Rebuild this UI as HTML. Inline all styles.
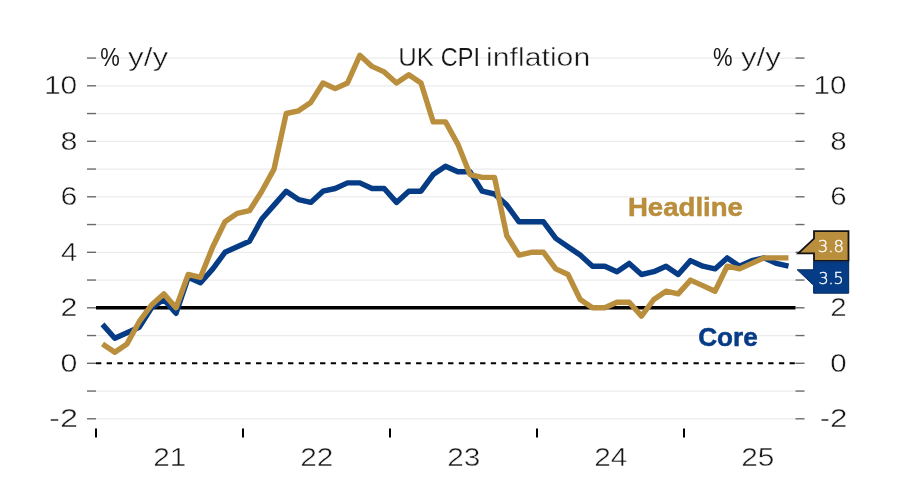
<!DOCTYPE html>
<html lang="en"><head><meta charset="utf-8"><title>UK CPI inflation</title>
<style>
html,body{margin:0;padding:0;background:#fff;}
body{width:900px;height:504px;overflow:hidden;}
svg{display:block;}
text{font-family:"Liberation Sans",Arial,sans-serif;}
.ax{font-size:25px;fill:#161616;stroke:#fff;stroke-width:0.45px;}
.b{font-weight:bold;font-size:25px;stroke-width:0.5px;}
.v{font-family:"DejaVu Sans Light","DejaVu Sans","Liberation Sans",sans-serif;font-weight:200;font-size:15px;fill:#fff;stroke:#fff;stroke-width:0.35px;}
</style></head><body>
<svg width="900" height="504" viewBox="0 0 900 504">
<rect width="900" height="504" fill="#fff"/>
<g stroke="#ebebeb" stroke-width="1.3">
<line x1="96" x2="795.5" y1="418.80" y2="418.80"/>
<line x1="96" x2="795.5" y1="391.05" y2="391.05"/>
<line x1="96" x2="795.5" y1="335.55" y2="335.55"/>
<line x1="96" x2="795.5" y1="280.05" y2="280.05"/>
<line x1="96" x2="795.5" y1="252.30" y2="252.30"/>
<line x1="96" x2="795.5" y1="224.55" y2="224.55"/>
<line x1="96" x2="795.5" y1="196.80" y2="196.80"/>
<line x1="96" x2="795.5" y1="169.05" y2="169.05"/>
<line x1="96" x2="795.5" y1="141.30" y2="141.30"/>
<line x1="96" x2="795.5" y1="113.55" y2="113.55"/>
<line x1="96" x2="795.5" y1="85.80" y2="85.80"/>
<line x1="96" x2="795.5" y1="58.05" y2="58.05"/>
</g>
<g stroke="#6a6a6a" stroke-width="1.4">
<line x1="87" x2="96" y1="418.80" y2="418.80"/>
<line x1="795.5" x2="804.5" y1="418.80" y2="418.80"/>
<line x1="87" x2="96" y1="391.05" y2="391.05"/>
<line x1="795.5" x2="804.5" y1="391.05" y2="391.05"/>
<line x1="87" x2="96" y1="363.30" y2="363.30"/>
<line x1="795.5" x2="804.5" y1="363.30" y2="363.30"/>
<line x1="87" x2="96" y1="335.55" y2="335.55"/>
<line x1="795.5" x2="804.5" y1="335.55" y2="335.55"/>
<line x1="87" x2="96" y1="307.80" y2="307.80"/>
<line x1="795.5" x2="804.5" y1="307.80" y2="307.80"/>
<line x1="87" x2="96" y1="280.05" y2="280.05"/>
<line x1="795.5" x2="804.5" y1="280.05" y2="280.05"/>
<line x1="87" x2="96" y1="252.30" y2="252.30"/>
<line x1="795.5" x2="804.5" y1="252.30" y2="252.30"/>
<line x1="87" x2="96" y1="224.55" y2="224.55"/>
<line x1="795.5" x2="804.5" y1="224.55" y2="224.55"/>
<line x1="87" x2="96" y1="196.80" y2="196.80"/>
<line x1="795.5" x2="804.5" y1="196.80" y2="196.80"/>
<line x1="87" x2="96" y1="169.05" y2="169.05"/>
<line x1="795.5" x2="804.5" y1="169.05" y2="169.05"/>
<line x1="87" x2="96" y1="141.30" y2="141.30"/>
<line x1="795.5" x2="804.5" y1="141.30" y2="141.30"/>
<line x1="87" x2="96" y1="113.55" y2="113.55"/>
<line x1="795.5" x2="804.5" y1="113.55" y2="113.55"/>
<line x1="87" x2="96" y1="85.80" y2="85.80"/>
<line x1="795.5" x2="804.5" y1="85.80" y2="85.80"/>
<line x1="87" x2="96" y1="58.05" y2="58.05"/>
<line x1="795.5" x2="804.5" y1="58.05" y2="58.05"/>
</g>
<line x1="96" x2="795.5" y1="363.30" y2="363.30" stroke="#000" stroke-width="2" stroke-dasharray="5.3 5.37"/>
<line x1="96" x2="795.5" y1="307.80" y2="307.80" stroke="#000" stroke-width="3.4"/>
<g stroke="#000" stroke-width="2">
<line x1="96" x2="96" y1="428.5" y2="437.5"/>
<line x1="243" x2="243" y1="428.5" y2="437.5"/>
<line x1="390" x2="390" y1="428.5" y2="437.5"/>
<line x1="537" x2="537" y1="428.5" y2="437.5"/>
<line x1="684" x2="684" y1="428.5" y2="437.5"/>
</g>
<polyline points="102.5,324.4 114.8,338.3 127.0,332.8 139.2,327.2 151.5,307.8 163.8,299.5 176.0,313.3 188.2,277.3 200.5,282.8 212.8,268.9 225.0,252.3 237.2,246.8 249.5,241.2 261.8,219.0 274.0,205.1 286.2,191.2 298.5,199.6 310.8,202.4 323.0,191.2 335.2,188.5 347.5,182.9 359.8,182.9 372.0,188.5 384.2,188.5 396.5,202.4 408.8,191.2 421.0,191.2 433.2,174.6 445.5,166.3 457.8,171.8 470.0,171.8 482.2,191.2 494.5,194.0 506.8,205.1 519.0,221.8 531.2,221.8 543.5,221.8 555.8,238.4 568.0,246.8 580.2,255.1 592.5,266.2 604.8,266.2 617.0,271.7 629.2,263.4 641.5,274.5 653.8,271.7 666.0,266.2 678.2,274.5 690.5,260.6 702.8,266.2 715.0,268.9 727.2,257.9 739.5,266.2 751.8,260.6 764.0,257.9 776.2,263.4 788.5,266.2" fill="none" stroke="#063C86" stroke-width="5.4" stroke-linejoin="round"/>
<polyline points="102.5,343.9 114.8,352.2 127.0,343.9 139.2,321.7 151.5,305.0 163.8,293.9 176.0,307.8 188.2,274.5 200.5,277.3 212.8,246.8 225.0,221.8 237.2,213.4 249.5,210.7 261.8,191.2 274.0,169.1 286.2,113.5 298.5,110.8 310.8,102.4 323.0,83.0 335.2,88.6 347.5,83.0 359.8,55.3 372.0,66.4 384.2,71.9 396.5,83.0 408.8,74.7 421.0,83.0 433.2,121.9 445.5,121.9 457.8,144.1 470.0,174.6 482.2,177.4 494.5,177.4 506.8,235.7 519.0,255.1 531.2,252.3 543.5,252.3 555.8,268.9 568.0,274.5 580.2,299.5 592.5,307.8 604.8,307.8 617.0,302.2 629.2,302.2 641.5,316.1 653.8,299.5 666.0,291.2 678.2,293.9 690.5,280.1 702.8,285.6 715.0,291.2 727.2,266.2 739.5,268.9 751.8,263.4 764.0,257.9 776.2,257.9 788.5,257.9" fill="none" stroke="#B98E3C" stroke-width="5.4" stroke-linejoin="round"/>
<path d="M798.2 253.4 L814 238.6 L814 231.1 L848.5 231.1 L848.5 260.9 L814 260.9 L814 253.4 Z" fill="#B98E3C" stroke="#141414" stroke-width="1.8"/>
<path d="M797.2 269.8 L813.6 269.8 L813.6 261.8 L848.7 261.8 L848.7 293.2 L813.6 293.2 L813.6 285.3 Z" fill="#063C86" stroke="#042a60" stroke-width="1"/>
<text class="ax" x="49.10" y="427.10" textLength="28.84" lengthAdjust="spacingAndGlyphs" style="font-size:25.40px">-2</text>
<text class="ax" x="819.70" y="427.10" textLength="27.87" lengthAdjust="spacingAndGlyphs" style="font-size:25.40px">-2</text>
<text class="ax" x="60.60" y="371.60" textLength="16.90" lengthAdjust="spacingAndGlyphs" style="font-size:25.40px">0</text>
<text class="ax" x="830.20" y="371.60" textLength="16.40" lengthAdjust="spacingAndGlyphs" style="font-size:25.40px">0</text>
<text class="ax" x="60.60" y="316.10" textLength="16.90" lengthAdjust="spacingAndGlyphs" style="font-size:25.40px">2</text>
<text class="ax" x="830.20" y="316.10" textLength="16.40" lengthAdjust="spacingAndGlyphs" style="font-size:25.40px">2</text>
<text class="ax" x="60.90" y="260.60" textLength="16.40" lengthAdjust="spacingAndGlyphs" style="font-size:25.40px">4</text>
<text class="ax" x="60.60" y="205.10" textLength="16.90" lengthAdjust="spacingAndGlyphs" style="font-size:25.40px">6</text>
<text class="ax" x="830.20" y="205.10" textLength="16.40" lengthAdjust="spacingAndGlyphs" style="font-size:25.40px">6</text>
<text class="ax" x="60.60" y="149.60" textLength="16.90" lengthAdjust="spacingAndGlyphs" style="font-size:25.40px">8</text>
<text class="ax" x="830.20" y="149.60" textLength="16.40" lengthAdjust="spacingAndGlyphs" style="font-size:25.40px">8</text>
<text class="ax" x="43.90" y="94.10" textLength="33.30" lengthAdjust="spacingAndGlyphs" style="font-size:25.40px">10</text>
<text class="ax" x="813.50" y="94.10" textLength="33.00" lengthAdjust="spacingAndGlyphs" style="font-size:25.40px">10</text>
<text class="ax"><tspan x="100.30" y="65.90" textLength="19.53" lengthAdjust="spacingAndGlyphs" style="font-size:25.40px;stroke-width:0px">%</tspan> <tspan x="128.10" y="65.90" textLength="40.04" lengthAdjust="spacingAndGlyphs" style="font-size:25.40px">y/y</tspan></text>
<text class="ax"><tspan x="713.10" y="65.90" textLength="19.53" lengthAdjust="spacingAndGlyphs" style="font-size:25.40px;stroke-width:0px">%</tspan> <tspan x="740.90" y="65.90" textLength="40.04" lengthAdjust="spacingAndGlyphs" style="font-size:25.40px">y/y</tspan></text>
<text class="ax"><tspan x="398.30" y="65.90" textLength="35.63" lengthAdjust="spacingAndGlyphs" style="font-size:25.40px;stroke-width:0.3px">UK</tspan> <tspan x="440.80" y="65.90" textLength="39.19" lengthAdjust="spacingAndGlyphs" style="font-size:25.40px;stroke-width:0.1px">CPI</tspan> <tspan x="486.10" y="65.90" textLength="104.10" lengthAdjust="spacingAndGlyphs" style="font-size:25.40px">inflation</tspan></text>
<text class="ax" x="153.20" y="466.20" textLength="33.16" lengthAdjust="spacingAndGlyphs" style="font-size:25.40px">21</text>
<text class="ax" x="300.20" y="466.20" textLength="33.16" lengthAdjust="spacingAndGlyphs" style="font-size:25.40px">22</text>
<text class="ax" x="447.20" y="466.20" textLength="33.16" lengthAdjust="spacingAndGlyphs" style="font-size:25.40px">23</text>
<text class="ax" x="594.20" y="466.20" textLength="33.16" lengthAdjust="spacingAndGlyphs" style="font-size:25.40px">24</text>
<text class="ax" x="741.20" y="466.20" textLength="33.16" lengthAdjust="spacingAndGlyphs" style="font-size:25.40px">25</text>
<text class="b" x="627.90" y="216.00" textLength="115.03" lengthAdjust="spacingAndGlyphs" fill="#B98E3C" stroke="#B98E3C" style="font-size:25.30px">Headline</text>
<text class="b" x="698.20" y="345.50" textLength="59.53" lengthAdjust="spacingAndGlyphs" fill="#063C86" stroke="#063C86" style="font-size:25.30px">Core</text>
<text class="v" x="817.80" y="251.80" textLength="26.31" lengthAdjust="spacingAndGlyphs" fill="#fff" style="font-size:15.50px">3.8</text>
<text class="v" x="818.40" y="283.80" textLength="25.37" lengthAdjust="spacingAndGlyphs" fill="#fff" style="font-size:15.50px">3.5</text>
</svg></body></html>
